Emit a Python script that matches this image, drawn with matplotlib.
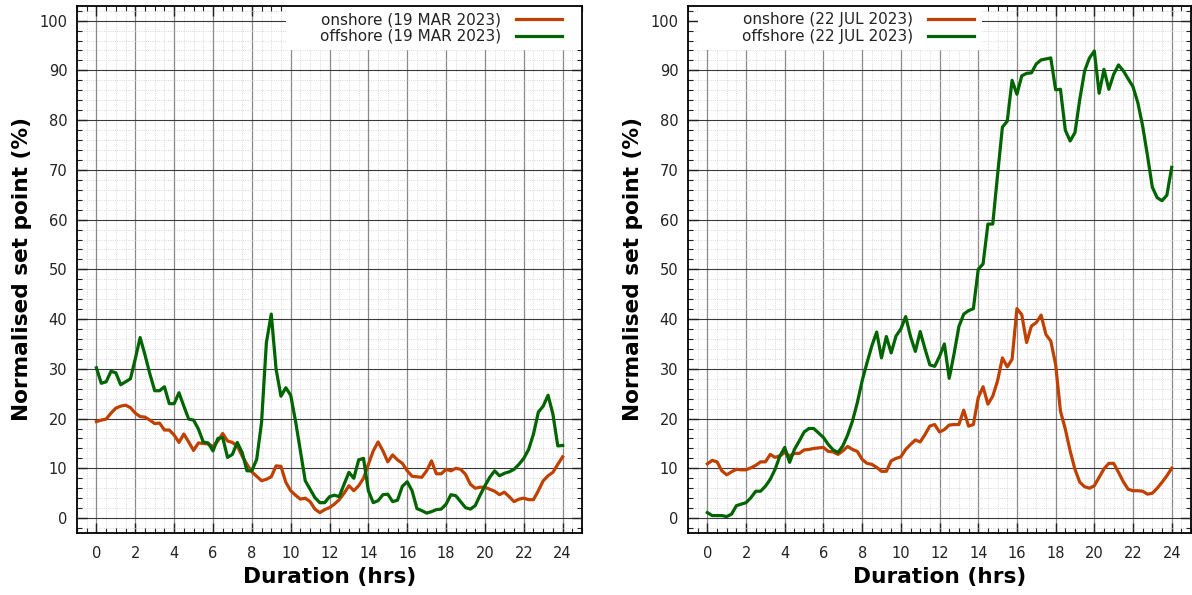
import matplotlib
matplotlib.use('Agg')
import matplotlib.pyplot as plt
import numpy as np
from matplotlib.ticker import MultipleLocator
from matplotlib.patches import Rectangle

# 15-minute samples over one day
hours = np.linspace(0, 24, 97)

mar_on = [19.4, 19.7, 19.9, 21.1,
          22.1, 22.5, 22.7, 22.2,
          21.1, 20.4, 20.3, 19.7,
          19.0, 19.1, 17.7, 17.7,
          16.7, 15.2, 16.9, 15.3,
          13.6, 15.1, 15.0, 14.9,
          14.4, 15.5, 17.0, 15.5,
          15.2, 14.5, 12.5, 10.8,
          9.3, 8.4, 7.5, 7.8,
          8.3, 10.5, 10.4, 7.2,
          5.5, 4.6, 3.8, 4.0,
          3.3, 1.8, 1.1, 1.7,
          2.1, 2.8, 3.7, 5.0,
          6.5, 5.5, 6.5, 8.0,
          10.8, 13.5, 15.3, 13.5,
          11.3, 12.7, 11.7, 11.0,
          9.5, 8.4, 8.3, 8.2,
          9.5, 11.5, 8.9, 8.9,
          9.8, 9.5, 10.0, 9.8,
          8.8, 6.8, 6.0, 6.2,
          6.2, 5.8, 5.4, 4.7,
          5.2, 4.3, 3.3, 3.8,
          4.0, 3.7, 3.7, 5.5,
          7.5, 8.5, 9.2, 10.8,
          12.3]

mar_off = [30.2, 27.1, 27.4, 29.5,
           29.2, 26.8, 27.4, 28.0,
           32.0, 36.3, 32.8, 29.0,
           25.6, 25.6, 26.4, 23.0,
           23.0, 25.2, 22.5, 19.9,
           19.7, 17.9, 15.3, 15.1,
           13.5, 16.0, 16.2, 12.2,
           12.8, 15.2, 13.2, 9.5,
           9.5, 11.8, 19.2, 35.3,
           41.0, 29.9, 24.5, 26.2,
           24.7, 19.5, 13.5, 7.5,
           5.8, 4.1, 3.1, 3.1,
           4.3, 4.6, 4.3, 6.8,
           9.2, 8.0, 11.7, 12.0,
           5.5, 3.1, 3.5, 4.7,
           4.8, 3.3, 3.6, 6.4,
           7.3, 5.5, 1.9, 1.5,
           1.0, 1.3, 1.7, 1.8,
           2.8, 4.7, 4.5, 3.3,
           2.1, 1.8, 2.5, 4.6,
           6.5, 8.2, 9.5, 8.5,
           9.0, 9.3, 9.8, 10.8,
           12.0, 13.8, 16.9, 21.3,
           22.5, 24.7, 20.9, 14.5,
           14.6]

jul_on = [10.9, 11.6, 11.3, 9.5,
          8.7, 9.3, 9.8, 9.7,
          9.7, 10.1, 10.6, 11.3,
          11.3, 12.8, 12.2, 12.5,
          13.2, 12.5, 13.0, 13.0,
          13.7, 13.8, 14.0, 14.1,
          14.2, 13.4, 13.3, 12.8,
          13.5, 14.4, 13.8, 13.4,
          11.8, 11.0, 10.8, 10.2,
          9.4, 9.4, 11.5, 12.0,
          12.3, 13.8, 14.8, 15.7,
          15.3, 16.8, 18.5, 18.8,
          17.3, 17.8, 18.7, 18.8,
          18.8, 21.7, 18.5, 18.8,
          24.2, 26.4, 22.9, 24.5,
          27.6, 32.2, 30.4, 31.9,
          42.1, 40.9, 35.3, 38.6,
          39.3, 40.8, 36.9, 35.6,
          30.9, 21.5, 17.9, 13.5,
          9.8, 7.2, 6.3, 6.0,
          6.5, 8.2, 9.9, 11.0,
          11.0, 9.2, 7.3, 5.8,
          5.5, 5.5, 5.4, 4.8,
          5.0, 6.0, 7.2, 8.5,
          10.0]

jul_off = [1.1, 0.5, 0.5, 0.5,
           0.3, 0.8, 2.5, 2.8,
           3.1, 4.1, 5.4, 5.4,
           6.4, 7.8, 9.8, 12.5,
           14.2, 11.2, 13.8, 15.5,
           17.3, 18.0, 18.0, 17.1,
           16.2, 14.8, 13.7, 13.2,
           14.5, 16.7, 19.5, 23.2,
           27.6, 31.2, 34.6, 37.4,
           32.2, 36.5, 33.2, 36.6,
           38.0, 40.5, 36.5, 33.5,
           37.5, 34.0, 30.8, 30.5,
           32.5, 35.0, 28.1, 33.0,
           38.5, 41.0, 41.7, 42.1,
           50.0, 51.1, 59.1, 59.1,
           69.0, 78.6, 79.8, 88.0,
           85.2, 88.9, 89.4, 89.5,
           91.3, 92.1, 92.3, 92.5,
           86.1, 86.2, 78.0, 75.8,
           77.5, 84.2, 89.9, 92.5,
           93.9, 85.4, 90.2, 86.2,
           89.2, 91.1, 89.9, 88.3,
           86.7, 83.5, 78.8, 72.8,
           66.5, 64.4, 63.8, 64.9,
           70.5]

dates = ['19 MAR 2023', '22 JUL 2023']
onshore = [mar_on, jul_on]
offshore = [mar_off, jul_off]

fig = plt.figure(figsize=(11.92, 5.95), dpi=100)
boxes = [[0.0646, 0.1042, 0.4237, 0.8862],
         [0.5772, 0.1042, 0.4220, 0.8862]]
# key placement (axes fraction): white box left/right, right end of key lines
key_box = [(0.414, 1.0, 0.960), (0.02, 0.584, 0.568)]

for i in range(2):
    ax = fig.add_axes(boxes[i])
    ax.plot(hours, onshore[i], color='#c04000', lw=2.3, label='onshore (' + dates[i] + ')')
    ax.plot(hours, offshore[i], color='#006400', lw=2.3, label='offshore (' + dates[i] + ')')
    ax.set_xlim(-1, 25)
    ax.set_ylim(-3, 103)
    ax.xaxis.set_major_locator(MultipleLocator(2))
    ax.xaxis.set_minor_locator(MultipleLocator(0.5))
    ax.yaxis.set_major_locator(MultipleLocator(10))
    ax.yaxis.set_minor_locator(MultipleLocator(2))
    ax.set_axisbelow(True)
    ax.grid(which='major', axis='x', color='#8a8a8a', lw=0.9)
    ax.grid(which='major', axis='y', color='#3a3a3a', lw=0.8)
    ax.grid(which='minor', color='#cccccc', lw=0.6, ls=':')
    ax.tick_params(which='both', direction='in', top=True, right=True, labelsize=10.5, colors='#222222')
    ax.tick_params(which='major', length=7, width=1)
    ax.tick_params(which='minor', length=3.5, width=0.8)
    ax.tick_params(axis='x', pad=9)
    ax.tick_params(axis='y', pad=7)
    for sp in ax.spines.values():
        sp.set_linewidth(1.3)
    ax.set_xlabel('Duration (hrs)', fontsize=15.6, fontweight='bold', labelpad=5)
    ax.set_ylabel('Normalised set point (%)', fontsize=15.6, fontweight='bold', labelpad=5)

    x0, x1, xk = key_box[i]
    ax.add_patch(Rectangle((x0, 0.9165), x1 - x0, 0.0835, transform=ax.transAxes,
                           facecolor='white', edgecolor='none', zorder=1))
    leg = ax.legend(loc='upper right', bbox_to_anchor=(xk, 0.988), markerfirst=False,
                    handlelength=3.0, handletextpad=1.0, labelspacing=0.12,
                    borderpad=0, borderaxespad=0, frameon=False, fontsize=11)
    for t in leg.get_texts():
        t.set_color('#222222')

plt.savefig('out.png', dpi=100)
